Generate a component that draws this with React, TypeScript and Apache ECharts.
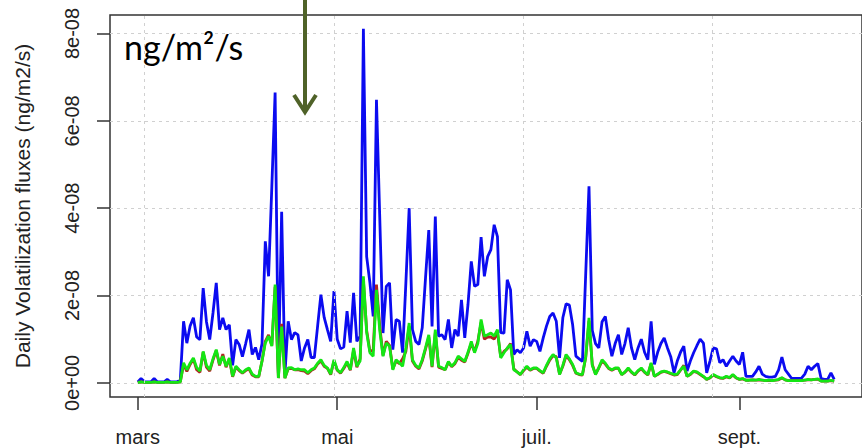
import React, { useEffect, useRef } from "react";
import * as echarts from "echarts";

// Days counted from 1 March (day 0) to 30 September (day 213)
const monthTickDays = [0, 61, 122, 184];
const monthTickLabels = ["mars", "mai", "juil.", "sept."];

// Y axis ticks
const yTickValues = [0, 2e-8, 4e-8, 6e-8, 8e-8];
const yTickLabels = ["0e+00", "2e-08", "4e-08", "6e-08", "8e-08"];

// Values below are in units of 1e-8 ng/m2/s
const UNIT = 1e-8;

const blue = [
  0.02, 0.1, 0.03, 0.02, 0.02, 0.1, 0.02, 0.02, 0.02, 0.08,
  0.02, 0.02, 0.03, 0.05, 1.41, 0.91, 1.3, 1.49, 1.05, 0.99,
  2.17, 1.4, 0.99, 1.6, 2.29, 1.22, 1.49, 1.22, 1.33, 0.4,
  0.99, 0.88, 0.6, 0.9, 1.22, 0.65, 0.81, 0.53, 0.9, 3.24,
  2.44, 4.5, 6.65, 0.2, 3.92, 0.2, 1.41, 0.99, 1.15, 1.1,
  0.5, 0.8, 0.99, 0.58, 0.58, 1.3, 2.02, 1.5, 1.22, 0.95,
  2.1, 1.0, 0.78, 0.82, 1.64, 0.92, 2.06, 0.95, 1.07, 8.11,
  2.89, 2.29, 1.52, 6.48, 3.8, 1.14, 2.21, 2.29, 0.76, 1.45,
  1.41, 0.69, 2.3, 4.0, 1.22, 0.95, 0.88, 1.26, 2.4, 3.5,
  1.29, 3.81, 1.07, 1.1, 0.99, 1.45, 0.8, 1.22, 1.07, 1.9,
  1.03, 1.8, 2.78, 2.21, 2.25, 3.34, 2.44, 2.89, 3.05, 3.62,
  3.35, 1.15, 1.14, 2.36, 2.13, 0.65, 0.76, 0.69, 0.8, 1.18,
  0.84, 0.99, 0.95, 0.72, 1.03, 1.3, 1.52, 1.6, 1.41, 0.57,
  1.49, 1.81, 1.78, 1.33, 0.61, 0.55, 0.49, 2.5, 4.5, 1.2,
  0.9, 0.8, 1.4, 1.52, 1.0, 0.61, 0.9, 1.1, 0.65, 0.9,
  1.26, 0.8, 0.53, 0.8, 1.0, 0.7, 0.53, 1.41, 0.42, 0.7,
  0.9, 1.03, 0.8, 0.6, 0.23, 0.5, 0.7, 0.84, 0.27, 0.5,
  0.69, 0.85, 1.0, 0.91, 0.23, 0.5, 0.8, 0.78, 0.46, 0.53,
  0.38, 0.5, 0.61, 0.5, 0.42, 0.7, 0.15, 0.15, 0.15, 0.25,
  0.38, 0.2, 0.15, 0.13, 0.13, 0.15, 0.3, 0.59, 0.3, 0.2,
  0.1, 0.1, 0.1, 0.11, 0.2, 0.38, 0.3, 0.38, 0.44, 0.1,
  0.08, 0.08, 0.23, 0.08,
];

const red = [
  0.01, 0.02, 0.01, 0.01, 0.01, 0.02, 0.01, 0.01, 0.01, 0.02,
  0.01, 0.01, 0.01, 0.02, 0.42, 0.26, 0.42, 0.55, 0.3, 0.24,
  0.7, 0.36, 0.27, 0.52, 0.74, 0.4, 0.66, 0.36, 0.55, 0.14,
  0.36, 0.28, 0.22, 0.28, 0.32, 0.18, 0.14, 0.14, 0.5, 0.95,
  1.1, 0.86, 2.2, 0.11, 1.35, 0.11, 0.32, 0.33, 0.3, 0.3,
  0.28, 0.27, 0.21, 0.28, 0.32, 0.43, 0.5, 0.38, 0.33, 0.19,
  0.5, 0.29, 0.22, 0.33, 0.46, 0.29, 0.75, 0.36, 0.55, 2.35,
  1.2, 0.72, 0.75, 2.25, 1.3, 0.63, 0.95, 0.86, 0.32, 0.5,
  0.44, 0.55, 0.72, 1.3, 0.5, 0.38, 0.32, 0.5, 0.77, 1.05,
  0.36, 1.15, 0.36, 0.33, 0.3, 0.47, 0.37, 0.44, 0.58, 0.52,
  0.48, 0.68, 0.9, 0.72, 0.95, 1.38, 1.0, 1.05, 1.05, 1.0,
  1.15, 0.6, 0.72, 0.78, 0.9, 0.32, 0.25, 0.19, 0.28, 0.36,
  0.29, 0.33, 0.33, 0.27, 0.22, 0.38, 0.52, 0.62, 0.6, 0.2,
  0.38, 0.62, 0.53, 0.4, 0.22, 0.19, 0.18, 0.58, 1.42, 0.42,
  0.2, 0.34, 0.5, 0.43, 0.33, 0.29, 0.33, 0.33, 0.19, 0.24,
  0.32, 0.24, 0.18, 0.27, 0.32, 0.24, 0.18, 0.44, 0.15, 0.19,
  0.24, 0.26, 0.24, 0.21, 0.18, 0.19, 0.29, 0.4, 0.15, 0.19,
  0.26, 0.24, 0.19, 0.14, 0.08, 0.11, 0.18, 0.14, 0.11, 0.1,
  0.14, 0.11, 0.18, 0.11, 0.08, 0.09, 0.06, 0.06, 0.07, 0.06,
  0.07, 0.06, 0.05, 0.05, 0.05, 0.06, 0.07, 0.11, 0.07, 0.05,
  0.05, 0.05, 0.05, 0.05, 0.06, 0.07, 0.07, 0.08, 0.08, 0.04,
  0.04, 0.04, 0.05, 0.04,
];

const green = [
  0.01, 0.02, 0.01, 0.01, 0.01, 0.02, 0.01, 0.01, 0.01, 0.02,
  0.01, 0.01, 0.01, 0.02, 0.46, 0.3, 0.45, 0.57, 0.35, 0.27,
  0.72, 0.4, 0.3, 0.55, 0.76, 0.42, 0.61, 0.38, 0.57, 0.15,
  0.38, 0.3, 0.23, 0.3, 0.34, 0.2, 0.15, 0.15, 0.5, 0.91,
  1.07, 0.84, 2.25, 0.11, 1.29, 0.11, 0.34, 0.35, 0.3, 0.32,
  0.3, 0.3, 0.23, 0.3, 0.34, 0.45, 0.53, 0.4, 0.34, 0.2,
  0.53, 0.3, 0.23, 0.35, 0.49, 0.3, 0.8, 0.38, 0.5, 2.44,
  1.15, 0.69, 0.61, 2.13, 1.2, 0.61, 0.91, 0.84, 0.3, 0.53,
  0.46, 0.38, 0.8, 1.37, 0.53, 0.4, 0.34, 0.53, 0.8, 1.1,
  0.38, 1.22, 0.38, 0.35, 0.3, 0.49, 0.38, 0.46, 0.61, 0.55,
  0.49, 0.7, 0.95, 0.69, 0.9, 1.45, 1.07, 1.1, 1.14, 1.07,
  1.22, 0.57, 0.69, 0.8, 0.88, 0.3, 0.25, 0.19, 0.3, 0.38,
  0.3, 0.34, 0.34, 0.28, 0.23, 0.4, 0.55, 0.65, 0.57, 0.19,
  0.4, 0.65, 0.55, 0.42, 0.23, 0.2, 0.19, 0.6, 1.49, 0.4,
  0.19, 0.35, 0.53, 0.45, 0.34, 0.3, 0.34, 0.34, 0.19, 0.25,
  0.34, 0.25, 0.19, 0.28, 0.34, 0.25, 0.19, 0.46, 0.15, 0.2,
  0.25, 0.27, 0.25, 0.22, 0.19, 0.2, 0.3, 0.38, 0.15, 0.2,
  0.27, 0.25, 0.2, 0.15, 0.08, 0.12, 0.19, 0.15, 0.12, 0.11,
  0.15, 0.12, 0.19, 0.12, 0.08, 0.1, 0.06, 0.06, 0.07, 0.06,
  0.08, 0.06, 0.05, 0.06, 0.05, 0.06, 0.08, 0.12, 0.07, 0.05,
  0.05, 0.05, 0.05, 0.05, 0.06, 0.08, 0.07, 0.08, 0.09, 0.04,
  0.04, 0.04, 0.06, 0.04,
];

// Dotted vertical grid lines (every 5e6 seconds, as in the original R plot)
const gridLineDays = [2.1, 59.97, 117.84, 175.71];

const AXIS_COLOR = "#333";
const TEXT_COLOR = "#222";
const FONT = "Liberation Sans, Arial, sans-serif";

export default function App() {
  const ref = useRef<HTMLDivElement>(null);

  useEffect(() => {
    const el = ref.current;
    if (!el) return;
    const chart = echarts.init(el, undefined, { renderer: "svg" });

    const toPairs = (arr: number[]) => arr.map((v, i) => [i, v * UNIT]);
    const lineSeries = (name: string, arr: number[], color: string) => ({
      type: "line",
      name,
      data: toPairs(arr),
      showSymbol: false,
      symbol: "none",
      z: 3,
      lineStyle: { color, width: 2.8 },
      itemStyle: { color },
      emphasis: { disabled: true },
      silent: true,
    });

    const gridLineStyle = { color: "#d0d0d0", type: [3, 4], width: 1 };

    chart.setOption({
      animation: false,
      backgroundColor: "#ffffff",
      grid: {
        left: 110,
        top: 15,
        right: -2,
        bottom: 51,
        show: true,
        borderColor: AXIS_COLOR,
        borderWidth: 1.5,
        backgroundColor: "transparent",
      },
      xAxis: {
        type: "value",
        min: -8.5,
        max: 221.5,
        axisLine: { show: false, onZero: false },
        splitLine: { show: false },
        axisTick: {
          show: true,
          length: 13,
          lineStyle: { color: AXIS_COLOR, width: 1.5 },
          customValues: monthTickDays,
        },
        axisLabel: {
          customValues: monthTickDays,
          formatter: (v: number) => {
            const i = monthTickDays.findIndex((d) => Math.abs(d - v) < 0.01);
            return i >= 0 ? monthTickLabels[i] : "";
          },
          fontSize: 20,
          fontFamily: FONT,
          color: TEXT_COLOR,
          margin: 30,
        },
      },
      yAxis: {
        type: "value",
        min: -0.324e-8,
        max: 8.424e-8,
        axisLine: { show: false, onZero: false },
        axisTick: {
          show: true,
          length: 13,
          lineStyle: { color: AXIS_COLOR, width: 1.5 },
          customValues: yTickValues,
        },
        axisLabel: {
          customValues: yTickValues,
          rotate: 90,
          formatter: (v: number) => {
            const i = yTickValues.findIndex((t) => Math.abs(t - v) < 1e-12);
            return i >= 0 ? yTickLabels[i] : "";
          },
          fontSize: 20,
          fontFamily: FONT,
          color: TEXT_COLOR,
          margin: 28,
        },
        splitLine: { show: true, lineStyle: gridLineStyle },
        name: "Daily Volatilization fluxes (ng/m2/s)",
        nameLocation: "middle",
        nameGap: 77,
        nameTextStyle: { fontSize: 21, fontFamily: FONT, color: TEXT_COLOR },
      },
      series: [
        {
          type: "line",
          data: [],
          z: 1,
          silent: true,
          markLine: {
            silent: true,
            symbol: ["none", "none"],
            label: { show: false },
            lineStyle: gridLineStyle,
            emphasis: { disabled: true },
            data: gridLineDays.map((d) => ({ xAxis: d })),
          },
        },
        lineSeries("blue", blue, "#0b0bf0"),
        lineSeries("red", red, "#b22222"),
        lineSeries("green", green, "#14e614"),
      ],
      graphic: [
        {
          type: "text",
          x: 124,
          y: 46,
          z: 10,
          style: {
            text: "ng/m²/s",
            fontSize: 34,
            fontFamily: "Lato, Open Sans, sans-serif",
            fill: "#000",
            align: "left",
            verticalAlign: "middle",
          },
        },
        {
          type: "line",
          z: 10,
          shape: { x1: 305, y1: 0, x2: 305, y2: 111 },
          style: { stroke: "#4f6228", lineWidth: 4 },
        },
        {
          type: "polyline",
          z: 10,
          shape: { points: [[294, 95], [305, 112], [316, 95]] },
          style: { stroke: "#4f6228", lineWidth: 4, fill: null },
        },
      ],
    });

    return () => {
      chart.dispose();
    };
  }, []);

  return (
    <div
      ref={ref}
      style={{ position: "fixed", left: 0, top: 0, width: 862, height: 448 }}
    />
  );
}
